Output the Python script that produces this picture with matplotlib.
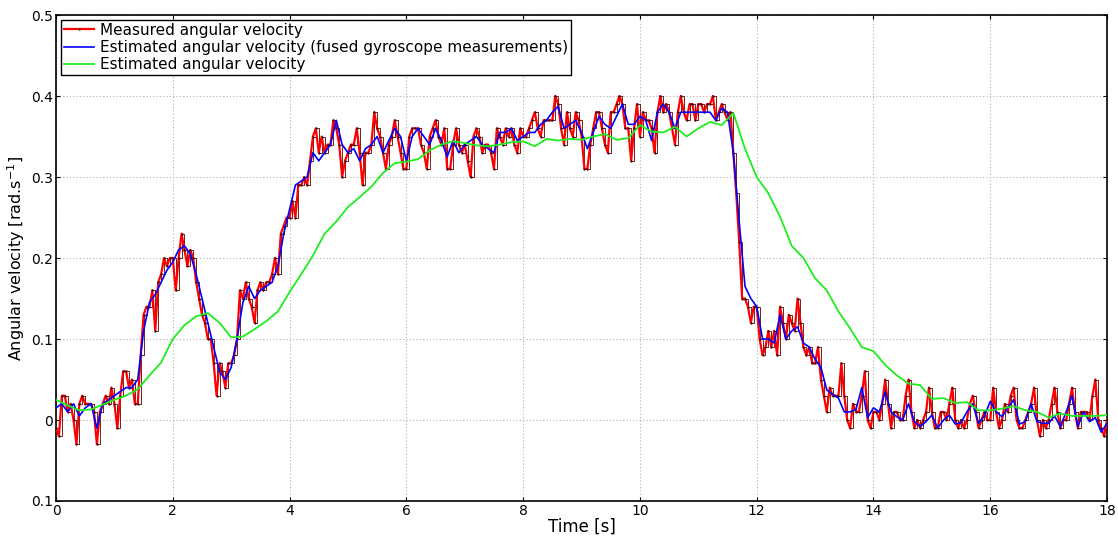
import numpy as np
import matplotlib
matplotlib.use('Agg')
import matplotlib.pyplot as plt

# measured angular velocity, hundredths of rad/s, one sample every 0.05 s
dt_meas = 0.05
meas_centi = [
    -1, -2, 3, 3, 1, 2, 0, -3, 2, 3, 2, 2, 2, 1, -3, 1, 2, 3, 2, 4,
    2, -1, 3, 6, 6, 4, 5, 2, 2, 8, 13, 14, 14, 16, 11, 17, 18, 20, 19, 20,
    20, 16, 20, 23, 21, 19, 21, 20, 17, 15, 13, 12, 10, 10, 7, 3, 7, 6, 4, 7,
    7, 8, 10, 16, 15, 17, 15, 14, 12, 16, 17, 16, 17, 17, 18, 20, 18, 23, 24, 25,
    25, 27, 25, 29, 29, 30, 29, 32, 35, 36, 33, 35, 33, 34, 34, 37, 36, 34, 30, 32,
    33, 34, 34, 36, 33, 29, 33, 33, 34, 38, 36, 35, 33, 31, 34, 35, 37, 35, 33, 31,
    31, 35, 36, 36, 36, 34, 33, 31, 35, 36, 37, 35, 34, 36, 31, 31, 34, 36, 34, 33,
    34, 32, 30, 35, 36, 35, 33, 34, 34, 33, 31, 36, 35, 34, 36, 35, 36, 34, 33, 36,
    35, 35, 36, 37, 38, 36, 35, 37, 37, 37, 37, 40, 39, 36, 34, 38, 36, 35, 38, 37,
    35, 31, 31, 34, 36, 38, 38, 36, 34, 33, 38, 38, 39, 40, 39, 36, 36, 32, 36, 39,
    35, 38, 37, 37, 36, 33, 38, 40, 38, 39, 38, 36, 34, 38, 40, 38, 37, 39, 39, 37,
    39, 39, 38, 39, 39, 40, 37, 38, 39, 38, 37, 38, 33, 28, 22, 15, 15, 14, 12, 14,
    14, 10, 8, 9, 11, 9, 11, 8, 14, 12, 10, 13, 12, 11, 15, 12, 9, 8, 9, 7,
    7, 9, 5, 3, 1, 4, 3, 3, 3, 7, 3, 0, -1, 2, 1, 1, 3, 6, 0, -1,
    1, 1, 0, 2, 5, 2, -1, 1, 1, 0, 0, 3, 5, 1, -1, 0, -1, 0, 1, 4,
    1, -1, -1, 1, 1, 0, 2, 4, 0, -1, 0, -1, 0, 2, 3, 1, -1, 0, 1, 0,
    0, 4, 1, -1, 0, 2, 1, 3, 4, 0, -1, -1, 0, 1, 2, 4, 0, -2, 0, -1,
    0, 2, 4, 1, -1, 0, 0, 2, 4, 1, -1, 1, 1, 1, 0, 3, 5, 0, -1, -2,
    0,
]

# estimated (fused gyroscope), one value every 0.1 s
dt_fused = 0.1
fused = [
    0.015, 0.02, 0.01, 0.02, 0.005, 0.015, 0.02, -0.01, 0.02, 0.025,
    0.03, 0.035, 0.04, 0.04, 0.05, 0.11, 0.145, 0.155, 0.17, 0.185,
    0.195, 0.21, 0.215, 0.205, 0.18, 0.15, 0.12, 0.09, 0.06, 0.05,
    0.065, 0.10, 0.145, 0.165, 0.15, 0.16, 0.165, 0.17, 0.19, 0.23,
    0.26, 0.29, 0.295, 0.30, 0.33, 0.32, 0.33, 0.34, 0.37, 0.34,
    0.33, 0.335, 0.32, 0.335, 0.34, 0.35, 0.33, 0.345, 0.36, 0.35,
    0.32, 0.35, 0.36, 0.35, 0.34, 0.36, 0.345, 0.325, 0.345, 0.33,
    0.34, 0.345, 0.35, 0.34, 0.335, 0.33, 0.355, 0.355, 0.36, 0.345,
    0.35, 0.355, 0.355, 0.365, 0.37, 0.38, 0.387, 0.36, 0.365, 0.37,
    0.355, 0.335, 0.355, 0.375, 0.365, 0.36, 0.375, 0.39, 0.365, 0.365,
    0.375, 0.37, 0.345, 0.38, 0.39, 0.38, 0.36, 0.38, 0.38, 0.38,
    0.38, 0.38, 0.38, 0.37, 0.385, 0.38, 0.33, 0.245, 0.165, 0.15,
    0.14, 0.10, 0.10, 0.095, 0.13, 0.10, 0.11, 0.115, 0.095, 0.09,
    0.075, 0.065, 0.037, 0.032, 0.027, 0.01, 0.01, 0.013, 0.04, 0.003,
    0.015, 0.01, 0.035, 0.01, 0.004, 0.0, 0.02, -0.002, -0.008, -0.002,
    0.006, -0.01, 0.0, 0.006, -0.005, -0.003, 0.01, 0.02, -0.004, 0.005,
    0.023, 0.01, 0.004, 0.015, 0.025, -0.005, -0.002, 0.02, -0.002, -0.004,
    -0.004, 0.005, -0.008, 0.01, 0.03, -0.008, 0.01, -0.002, 0.003, -0.015,
    -0.004,
]

# estimated angular velocity, one value every 0.2 s
dt_est = 0.2
estimated = [
    0.025, 0.018, 0.012, 0.013, 0.019, 0.025, 0.03, 0.038, 0.055, 0.071,
    0.1, 0.117, 0.128, 0.132, 0.12, 0.102, 0.103, 0.112, 0.122, 0.134,
    0.158, 0.18, 0.203, 0.23, 0.245, 0.263, 0.275, 0.288, 0.305, 0.317,
    0.319, 0.322, 0.333, 0.34, 0.344, 0.342, 0.339, 0.338, 0.34, 0.343,
    0.344, 0.338, 0.347, 0.345, 0.347, 0.346, 0.35, 0.353, 0.346, 0.348,
    0.364, 0.356, 0.355, 0.362, 0.35, 0.36, 0.368, 0.364, 0.379, 0.335,
    0.30, 0.28, 0.251, 0.215, 0.2, 0.175, 0.16, 0.134, 0.113, 0.09,
    0.085, 0.068, 0.055, 0.045, 0.043, 0.026, 0.027, 0.021, 0.022, 0.012,
    0.012, 0.014, 0.017, 0.012, 0.01, 0.003, 0.008, 0.005, 0.005, 0.005,
    0.006,
]

x_ticks = [0, 2, 4, 6, 8, 10, 12, 14, 16, 18]
y_ticks = [-0.1, 0.0, 0.1, 0.2, 0.3, 0.4, 0.5]
y_ticklabels = ['0.1', '0', '0.1', '0.2', '0.3', '0.4', '0.5']

meas = np.array(meas_centi) * 0.01
t_meas = np.arange(len(meas)) * dt_meas
t_fused = np.arange(len(fused)) * dt_fused
t_est = np.arange(len(estimated)) * dt_est

fig = plt.figure(figsize=(11.18, 5.36), dpi=100)
ax = fig.add_axes([0.0501, 0.0653, 0.9401, 0.9067])

# thin dark step trace under the red line
ax.plot(t_meas, meas, drawstyle='steps-post', color='#5a0000', lw=0.6, zorder=2)
ax.plot(t_meas, meas, color='red', lw=1.6, marker='.', ms=1.2,
        mfc='#300000', mec='#300000', zorder=3, label='Measured angular velocity')
ax.plot(t_fused, fused, color='blue', lw=1.2, zorder=4,
        label='Estimated angular velocity (fused gyroscope measurements)')
ax.plot(t_est, estimated, color='#1eec1e', lw=1.3, zorder=5,
        label='Estimated angular velocity')

ax.set_xlim(0, 18)
ax.set_ylim(-0.1, 0.5)
ax.set_xticks(x_ticks)
ax.set_yticks(y_ticks)
ax.set_yticklabels(y_ticklabels)
ax.tick_params(direction='in', top=True, right=True, labelsize=10, length=3, pad=2)
ax.grid(True, linestyle=(0, (1, 2)), color='#b0b0b0', lw=0.8)
for sp in ax.spines.values():
    sp.set_linewidth(1.2)

ax.set_xlabel('Time [s]', fontsize=12, labelpad=0)
ax.set_ylabel('Angular velocity [rad.s$^{-1}$]', fontsize=11.5, labelpad=3)

leg = ax.legend(loc='upper left', fontsize=11, fancybox=False, framealpha=1,
                edgecolor='black', borderaxespad=0.3, handlelength=2,
                handletextpad=0.4, borderpad=0.2, labelspacing=0.15)
leg.get_frame().set_linewidth(1.0)

plt.savefig('out.png', dpi=100)
